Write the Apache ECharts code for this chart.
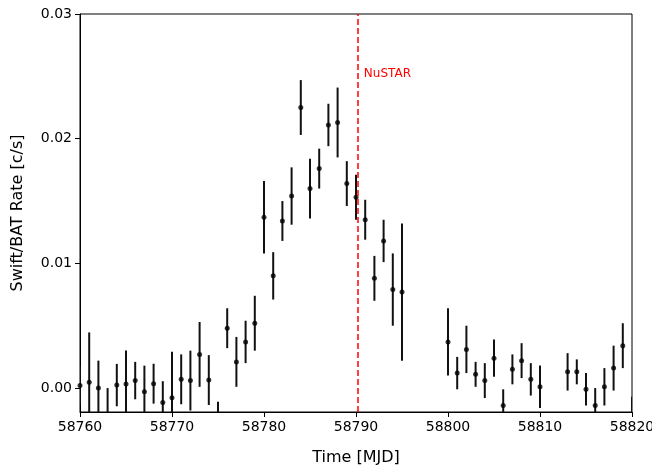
<!DOCTYPE html>
<html><head><meta charset="utf-8">
<script src="https://cdn.jsdelivr.net/npm/echarts@6/dist/echarts.min.js"></script>
<style>html,body{margin:0;padding:0;background:#fff}#c{width:652px;height:466px}</style>
</head><body><div id="c"></div>
<script>
const days = [58760,58761,58762,58763,58764,58765,58766,58767,58768,58769,58770,58771,58772,58773,58774,58775,58776,58777,58778,58779,
58780,58781,58782,58783,58784,58785,58786,58787,58788,58789,58790,58791,58792,58793,58794,58795,
58800,58801,58802,58803,58804,58805,58806,58807,58808,58809,58810,58813,58814,58815,58816,58817,58818,58819,58820];
const rates = [0.0002,0.00046,0.0000,-0.0022,0.00024,0.00032,0.0006,-0.0003,0.00035,-0.00115,-0.00078,0.0007,0.0006,0.0027,0.00064,-0.0025,0.0048,0.0021,0.0037,0.0052,
0.0137,0.0090,0.0134,0.0154,0.0225,0.0160,0.0176,0.0211,0.0213,0.0164,0.0153,0.0135,0.0088,0.0118,0.0079,0.0077,
0.0037,0.0012,0.0031,0.0011,0.0006,0.0024,-0.0014,0.0015,0.0022,0.0007,0.0001,0.0013,0.0013,-0.0001,-0.0014,0.0001,0.0016,0.0034,-0.0022];
const errors = [0.0015,0.0040,0.0022,0.0022,0.0017,0.0027,0.0015,0.0021,0.0016,0.0017,0.0037,0.0020,0.0024,0.0026,0.0020,0.0014,0.0016,0.0020,0.0017,0.0022,
0.0029,0.0019,0.0016,0.0023,0.0022,0.0024,0.0016,0.0017,0.0028,0.0018,0.0018,0.0016,0.0018,0.0017,0.0029,0.0055,
0.0027,0.0013,0.0019,0.0010,0.0014,0.0015,0.0013,0.0012,0.0014,0.0013,0.0017,0.0015,0.0010,0.0013,0.0014,0.0015,0.0018,0.0018,0.0015];
const yTicks = [0, 0.01, 0.02, 0.03];
const nustarTime = 58790.2;
const nustarLabel = 'NuSTAR';

const pts = days.map((d,i)=>[d, rates[i], errors[i]]);
const chart = echarts.init(document.getElementById('c'));
chart.setOption({
  animation:false,
  grid:{left:80,right:20,top:14,bottom:54,outerBoundsMode:'none',containLabel:false,show:true,borderColor:'#000',borderWidth:1,backgroundColor:'transparent'},
  xAxis:{type:'value',min:58760,max:58820,interval:10,
    name:'Time [MJD]',nameLocation:'middle',nameGap:38,
    nameTextStyle:{fontFamily:'DejaVu Sans',fontSize:16,color:'#000'},
    axisLine:{show:true,onZero:false,lineStyle:{color:'#000'}},
    axisTick:{show:true,length:5,lineStyle:{color:'#000'}},
    axisLabel:{fontFamily:'DejaVu Sans',fontSize:14,color:'#000',margin:8,formatter:v=>String(v)},
    splitLine:{show:false}},
  yAxis:{type:'value',min:-0.00192,max:0.03,
    name:'Swift/BAT Rate [c/s]',nameLocation:'middle',nameGap:54,nameRotate:90,
    nameTextStyle:{fontFamily:'DejaVu Sans',fontSize:16,color:'#000'},
    axisLine:{show:true,onZero:false,lineStyle:{color:'#000'}},
    axisTick:{show:true,length:5,customValues:yTicks,lineStyle:{color:'#000'}},
    axisLabel:{fontFamily:'DejaVu Sans',fontSize:14,color:'#000',margin:8,customValues:yTicks,formatter:v=>v.toFixed(2)},
    splitLine:{show:false}},
  series:[
    {type:'custom',clip:true,data:pts,encode:{x:0,y:1},
     renderItem:(params,api)=>{
       const x=api.value(0),y=api.value(1),e=api.value(2);
       const p1=api.coord([x,y-e]),p2=api.coord([x,y+e]);
       return {type:'line',shape:{x1:p1[0],y1:p1[1],x2:p2[0],y2:p2[1]},style:{stroke:'#111',lineWidth:2}};
     }},
    {type:'scatter',clip:true,data:pts.map(p=>[p[0],p[1]]),symbol:'circle',symbolSize:5,itemStyle:{color:'#000'},
     markLine:{silent:true,symbol:'none',label:{show:false},
       lineStyle:{color:'#ff0000',type:[6,3],width:1.5},
       data:[{xAxis:nustarTime}]}}
  ]
});
const lp = chart.convertToPixel({xAxisIndex:0,yAxisIndex:0},[nustarTime,0.0252]);
chart.setOption({graphic:[{type:'text',x:lp[0]+6,y:lp[1],style:{text:nustarLabel,fill:'#ff0000',fontFamily:'DejaVu Sans',fontSize:12,textVerticalAlign:'middle'}}]});
</script></body></html>
